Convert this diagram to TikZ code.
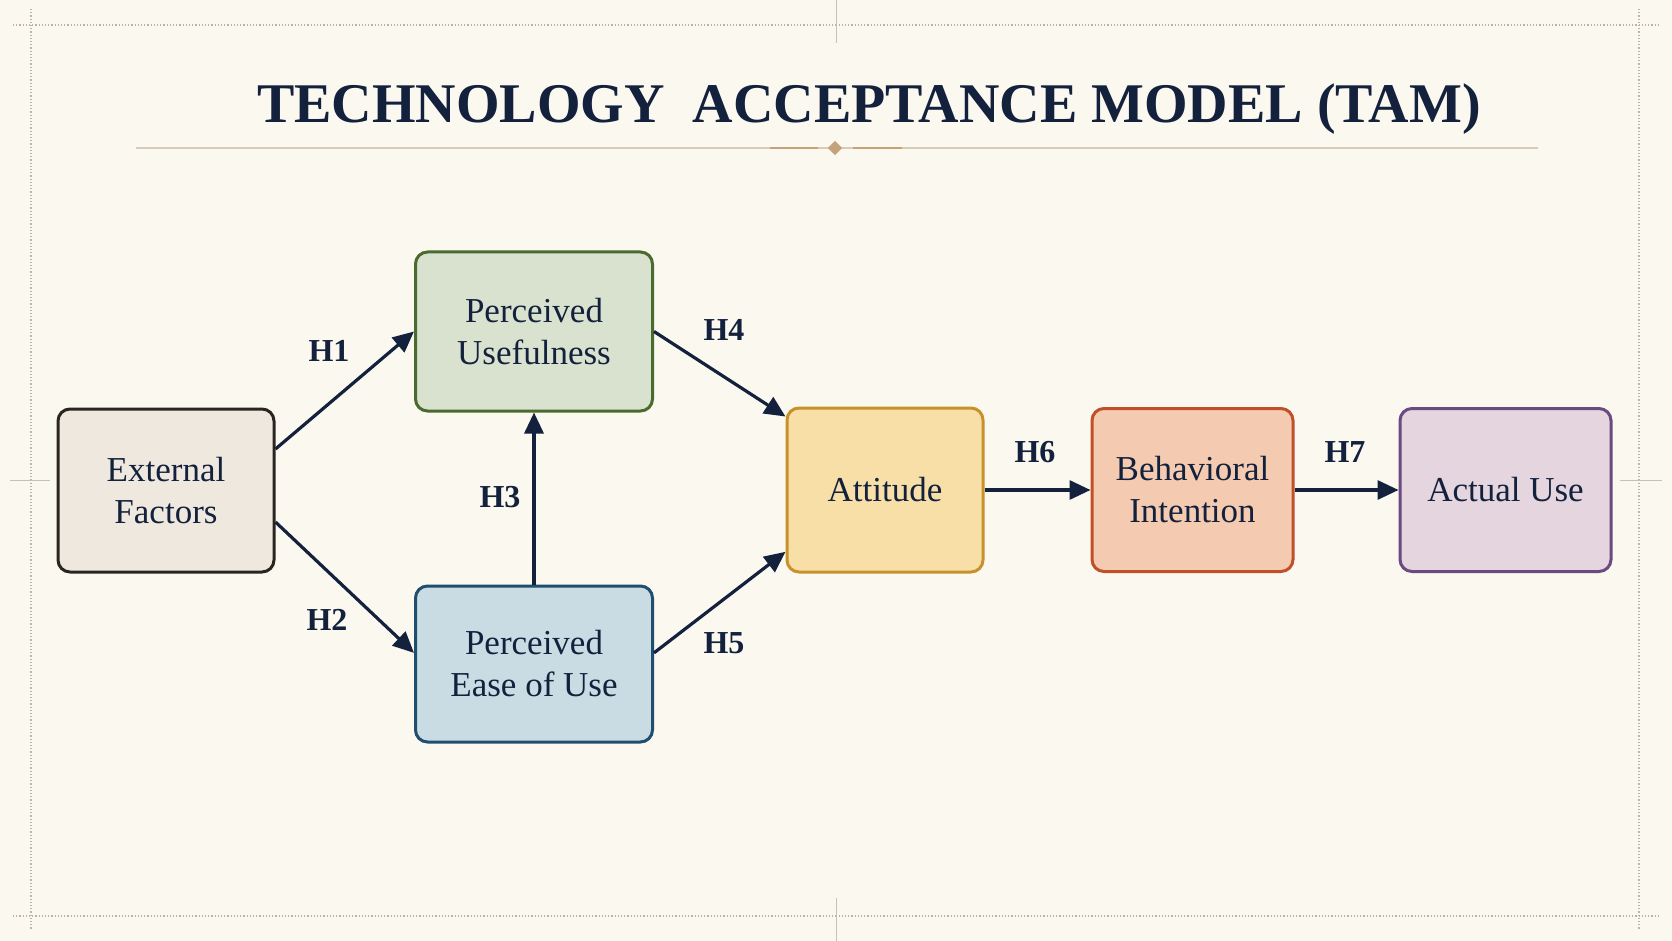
\documentclass[tikz,border=0pt]{standalone}
\usepackage{fontspec}
\setmainfont{Liberation Serif}
\usetikzlibrary{calc,arrows.meta}
\definecolor{bg}{HTML}{FBF8F0}
\definecolor{ink}{HTML}{14213D}
\definecolor{framec}{HTML}{B8B2A8}
\definecolor{rulec}{HTML}{D9CBB5}
\definecolor{ruledark}{HTML}{C4A27A}
\definecolor{efF}{HTML}{EFE8DE}\definecolor{efD}{HTML}{2A2520}
\definecolor{puF}{HTML}{D9E2CF}\definecolor{puD}{HTML}{4A6A30}
\definecolor{peF}{HTML}{C9DCE4}\definecolor{peD}{HTML}{1F4E6E}
\definecolor{atF}{HTML}{F8DFA8}\definecolor{atD}{HTML}{C8922A}
\definecolor{biF}{HTML}{F4CBB0}\definecolor{biD}{HTML}{C0502A}
\definecolor{auF}{HTML}{E4D5DF}\definecolor{auD}{HTML}{6A4A80}
\tikzset{
  box/.style={draw, line width=3pt, rounded corners=12pt, align=center, inner sep=0pt,
    text=ink, font=\fontsize{35}{42}\selectfont},
  link/.style={draw=ink, line width=3.2pt, -{Triangle[length=21pt,width=19pt]}},
  hlab/.style={text=ink, font=\fontsize{32}{36}\selectfont\bfseries, inner sep=0pt},
  framel/.style={draw=framec, line width=1.2pt, dotted},
  tick/.style={draw=framec!80, line width=1pt}
}
\begin{document}
\begin{tikzpicture}[x=1pt,y=-1pt]
\fill[bg] (0,0) rectangle (1672,941);
\useasboundingbox (0,0) rectangle (1672,941);
% frame
\coordinate (ftl) at (13,25); \coordinate (ftr) at (1658,25);
\coordinate (fbl) at (13,916); \coordinate (fbr) at (1658,916);
\coordinate (fl1) at (31,9); \coordinate (fl2) at (31,930);
\coordinate (fr1) at (1639,9); \coordinate (fr2) at (1639,930);
\draw[framel] (ftl) -- (ftr);
\draw[framel] (fbl) -- (fbr);
\draw[framel] (fl1) -- (fl2);
\draw[framel] (fr1) -- (fr2);
\coordinate (tt1) at (836,0); \coordinate (tt2) at (836,43);
\coordinate (tb1) at (836,898); \coordinate (tb2) at (836,941);
\coordinate (tl1) at (10,480); \coordinate (tl2) at (50,480);
\coordinate (tr1) at (1620,480); \coordinate (tr2) at (1662,480);
\draw[tick] (tt1) -- (tt2); \draw[tick] (tb1) -- (tb2);
\draw[tick] (tl1) -- (tl2); \draw[tick] (tr1) -- (tr2);
% title
\node[anchor=base, text=ink, inner sep=0pt, font=\fontsize{56}{60}\selectfont\bfseries] (title) at (869,123)
  {TECHNOLOGY\ \ ACCEPTANCE MODEL (TAM)};
% rule with diamond
\coordinate (r1) at (136,148); \coordinate (r2) at (1538,148);
\draw[rulec, line width=1.2pt] (r1) -- (r2);
\coordinate (d1) at (770,148); \coordinate (d2) at (818,148);
\coordinate (d3) at (853,148); \coordinate (d4) at (902,148);
\draw[ruledark, line width=2pt] (d1) -- (d2);
\draw[ruledark, line width=2pt] (d3) -- (d4);
\node[fill=ruledark, minimum size=10pt, inner sep=0pt, rotate=45] (diamond) at (835,148) {};
% boxes
\node[box, fill=efF, draw=efD, minimum width=216pt, minimum height=163pt] (ef) at (166,490.5) {External\\Factors};
\node[box, fill=puF, draw=puD, minimum width=237pt, minimum height=159pt] (pu) at (534,331.5) {Perceived\\Usefulness};
\node[box, fill=peF, draw=peD, minimum width=237pt, minimum height=156pt] (pe) at (534,664) {Perceived\\Ease of Use};
\node[box, fill=atF, draw=atD, minimum width=196pt, minimum height=164pt] (at) at (885,490) {Attitude};
\node[box, fill=biF, draw=biD, minimum width=201pt, minimum height=163pt] (bi) at (1192.5,490) {Behavioral\\Intention};
\node[box, fill=auF, draw=auD, minimum width=211pt, minimum height=163pt] (au) at (1505.5,490) {Actual Use};
% connectors
\draw[link] ($(ef.north east)!0.25!(ef.south east)$) -- (pu.west);
\draw[link] ($(ef.north east)!0.69!(ef.south east)$) -- ($(pe.north west)!0.43!(pe.south west)$);
\draw[link] (pe.north) -- (pu.south);
\draw[link] (pu.east) -- ($(at.north west)!0.06!(at.south west)$);
\draw[link] ($(pe.north east)!0.43!(pe.south east)$) -- ($(at.north west)!0.87!(at.south west)$);
\draw[link] (at.east) -- (bi.west);
\draw[link] (bi.east) -- (au.west);
% labels
\node[hlab] (h1) at (329,351) {H1};
\node[hlab] (h2) at (327,620) {H2};
\node[hlab] (h3) at (500,497) {H3};
\node[hlab] (h4) at (724,330) {H4};
\node[hlab] (h5) at (724,643) {H5};
\node[hlab] (h6) at (1035,452) {H6};
\node[hlab] (h7) at (1345,452) {H7};
\end{tikzpicture}
\end{document}
